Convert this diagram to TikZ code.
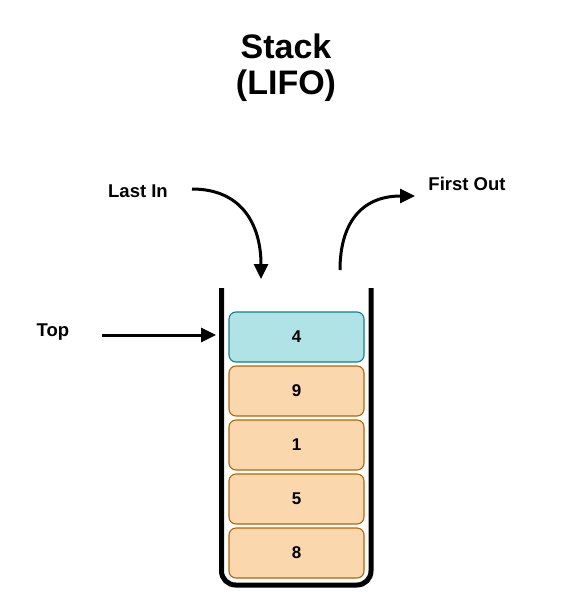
\documentclass[tikz,border=0pt]{standalone}
\usepackage{fontspec}
\setmainfont{Liberation Sans}
\usetikzlibrary{arrows.meta}
\definecolor{tealfill}{HTML}{B0E3E6}
\definecolor{tealline}{HTML}{0E8088}
\definecolor{orfill}{HTML}{FAD7AC}
\definecolor{orline}{HTML}{B46504}
\tikzset{
  item/.style={draw, rounded corners=7pt, line width=1.1pt, minimum width=135pt, minimum height=50pt, inner sep=0pt, font=\bfseries\fontsize{17}{19}\selectfont},
  topitem/.style={item, fill=tealfill, draw=tealline},
  lowitem/.style={item, fill=orfill, draw=orline},
  lbl/.style={font=\bfseries\fontsize{18.5}{21}\selectfont, inner sep=0pt, anchor=base},
  ttl/.style={font=\bfseries\fontsize{34}{38}\selectfont, inner sep=0pt, anchor=base},
  arr/.style={line width=3pt, -{Triangle[length=15pt,width=14pt]}},
  wall/.style={line width=5pt, rounded corners=14pt}
}
\begin{document}
\begin{tikzpicture}[x=1pt,y=-1pt]
\useasboundingbox (0,0) rectangle (572,606);
% title
\node[ttl] (t1) at (286,58) {Stack};
\node[ttl] (t2) at (286,94) {(LIFO)};
% container
\draw[wall] (221.5,288) -- (221.5,585) -- (371,585) -- (371,288);
% items
\node[topitem] (n4) at (296.5,337) {4};
\node[lowitem] (n9) at (296.5,391) {9};
\node[lowitem] (n1) at (296.5,445) {1};
\node[lowitem] (n5) at (296.5,499) {5};
\node[lowitem] (n8) at (296.5,553) {8};
% labels
\node[lbl] (lastin) at (138,197) {Last In};
\node[lbl] (firstout) at (467,190) {First Out};
\node[lbl] (top) at (53,336) {Top};
% connectors
\coordinate (a1) at (192,189);
\coordinate (a2) at (261,279);
\draw[arr] (a1) .. controls (242,189) and (261,225) .. (a2);
\coordinate (b1) at (340,270);
\coordinate (b2) at (415,196);
\draw[arr] (b1) .. controls (340,225) and (360,196) .. (b2);
\coordinate (c1) at (102,335);
\coordinate (c2) at (216,335);
\draw[arr] (c1) -- (c2);
\end{tikzpicture}
\end{document}
